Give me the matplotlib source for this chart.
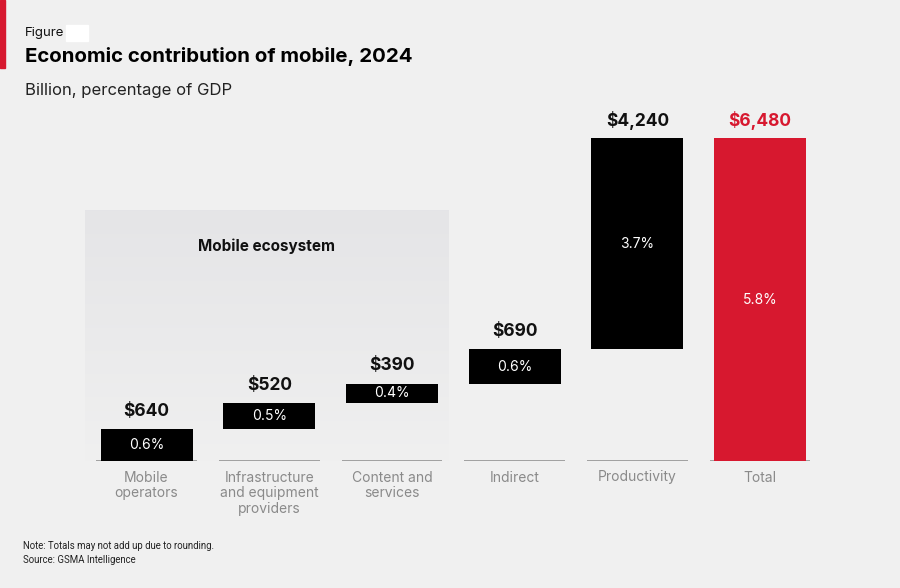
import matplotlib
matplotlib.use("Agg")
import matplotlib.pyplot as plt
import numpy as np
from matplotlib.patches import Rectangle

categories = ["Mobile\noperators", "Infrastructure\nand equipment\nproviders",
              "Content and\nservices", "Indirect", "Productivity", "Total"]
values = [640, 520, 390, 690, 4240, 6480]
value_labels = ["$640", "$520", "$390", "$690", "$4,240", "$6,480"]
pct_labels = ["0.6%", "0.5%", "0.4%", "0.6%", "3.7%", "5.8%"]

BG = "#f0f0f0"
RED = "#d7182f"
FONT = "Inter"

W, H = 900, 588
fig = plt.figure(figsize=(9, 5.88), dpi=100, facecolor=BG)

# axes placement (pixel based)
px_per_unit = 323 / 6480.0
base_px = 461
left_px, right_px = 85.2, 821.4
ymax = 8000
top_px = base_px - ymax * px_per_unit
ax = fig.add_axes([left_px / W, (H - base_px) / H, (right_px - left_px) / W, (base_px - top_px) / H])
ax.set_facecolor("none")
ax.set_xlim(-0.5, 5.5)
ax.set_ylim(0, ymax)
ax.axis("off")

# Mobile ecosystem shaded region (gradient)
eco_top = (base_px - 210) / px_per_unit
grad = np.linspace(0, 1, 256).reshape(-1, 1)
c_top = np.array([0.898, 0.898, 0.906])
c_bot = np.array([0.940, 0.940, 0.940])
img = c_top[None, None, :] * (1 - grad[:, :, None]) + c_bot[None, None, :] * grad[:, :, None]
ax.imshow(img, extent=(-0.5, 2.46, 0, eco_top), aspect="auto", zorder=0, origin="upper")
ax.text(0.98, (base_px - 246) / px_per_unit, "Mobile ecosystem", ha="center", va="center",
        fontsize=11, fontweight="bold", family=FONT, color="#111111", zorder=3)

# waterfall
x = np.arange(len(values))
bottoms = []
cum = 0
for i, v in enumerate(values):
    if i == len(values) - 1:
        bottoms.append(0)
    else:
        bottoms.append(cum)
        cum += v
colors = ["#000000"] * (len(values) - 1) + [RED]
ax.bar(x, values, bottom=bottoms, width=0.75, color=colors, zorder=2)

lab_off = 18 / px_per_unit
for i, v in enumerate(values):
    top = bottoms[i] + v
    ax.text(i, top + lab_off, value_labels[i], ha="center", va="center", fontsize=12.5,
            fontweight="bold", family=FONT, color=RED if i == len(values) - 1 else "#111111")
    ax.text(i, bottoms[i] + v / 2, pct_labels[i], ha="center", va="center", fontsize=10,
            family=FONT, color="white", zorder=3)
    ax.hlines(0, i - 0.41, i + 0.41, color="#9a9a9a", lw=1.3, zorder=1)
    for j, line in enumerate(categories[i].split("\n")):
        ax.text(i, -(20.5 + 15.7 * j) / px_per_unit, line, ha="center", va="baseline",
                fontsize=10, family=FONT, color="#8a8a8a")

# header
fig.patches.append(Rectangle((0, 1 - 68 / H), 5 / W, 68 / H, transform=fig.transFigure,
                             color=RED, zorder=5))
fig.text(25 / W, 1 - 33 / H, "Figure", fontsize=9.5, family=FONT, color="#111111", va="center")
fig.patches.append(Rectangle((66 / W, 1 - 41 / H), 22 / W, 16 / H, transform=fig.transFigure,
                             color="white", zorder=5))
fig.text(25 / W, 1 - 57 / H, "Economic contribution of mobile, 2024", fontsize=14.7,
         fontweight="bold", family=FONT, color="#000000", va="center")
fig.text(25 / W, 1 - 90 / H, "Billion, percentage of GDP", fontsize=12, family=FONT,
         color="#222222", va="center")

# notes
NOTE_FONT = "Roboto"
fig.text(23 / W, 1 - 546 / H, "Note: Totals may not add up due to rounding.", fontsize=6.9,
         family=NOTE_FONT, color="#222222", va="center")
fig.text(23 / W, 1 - 560 / H, "Source: GSMA Intelligence", fontsize=6.9,
         family=NOTE_FONT, color="#222222", va="center")

fig.savefig("out.png", dpi=100, facecolor=BG)
